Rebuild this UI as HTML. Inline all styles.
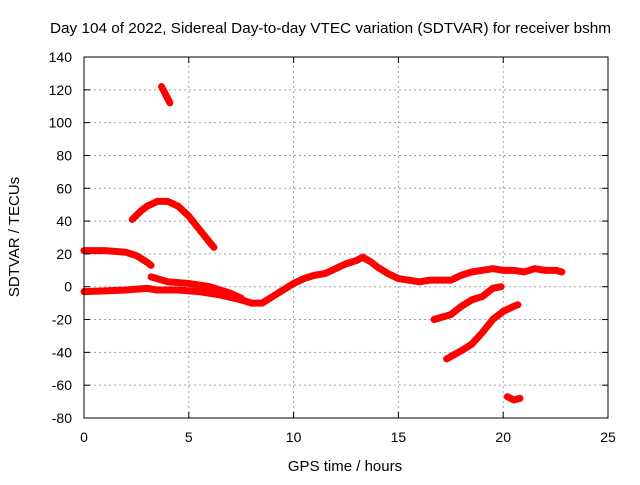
<!DOCTYPE html>
<html><head><meta charset="utf-8"><style>
body{margin:0;background:#fff}
svg text{font-family:"Liberation Sans",sans-serif;font-size:14px;fill:#000}
</style></head><body>
<svg id="chart" width="640" height="480" xmlns="http://www.w3.org/2000/svg">
<rect width="640" height="480" fill="#fff"/>
<g id="grid"></g>
<g id="series"></g>
<rect x="84" y="57" width="524" height="361" fill="none" stroke="#000" stroke-width="1"/>
<g id="ticks"></g>
<text x="50" y="33" textLength="561" lengthAdjust="spacingAndGlyphs" style="font-size:15px">Day 104 of 2022, Sidereal Day-to-day VTEC variation (SDTVAR) for receiver bshm</text>
<text x="345" y="471" text-anchor="middle" style="font-size:15px">GPS time / hours</text>
<text transform="translate(19,237) rotate(-90)" text-anchor="middle" style="font-size:15px">SDTVAR / TECUs</text>
</svg>
<script>
const xTicks=[0,5,10,15,20,25];
const yTicks=[-80,-60,-40,-20,0,20,40,60,80,100,120,140];
const seriesMain=[[0,-3],[1,-2.5],[2,-2],[3,-1],[3.5,-2],[4.5,-2],[5.5,-3],[6.5,-5],[7.5,-8],[8,-10],[8.5,-10],[9,-6],[9.5,-2],[10,2],[10.5,5],[11,7],[11.5,8],[12,11],[12.5,14],[13,16],[13.3,18],[13.7,15],[14,12],[14.5,8],[15,5],[15.5,4],[16,3],[16.5,4],[17,4],[17.5,4],[18,7],[18.5,9],[19,10],[19.5,11],[20,10],[20.5,10],[21,9],[21.5,11],[22,10],[22.5,10],[22.8,9]];
const seriesA=[[0,22],[1,22],[2,21],[2.5,19],[3,15],[3.2,13]];
const seriesB=[[3.2,6],[4,3],[5,2],[6,0],[7,-4],[7.5,-7]];
const seriesC=[[2.3,41],[2.7,46],[3,49],[3.5,52],[4,52],[4.5,49],[5,43],[5.5,35],[6,27],[6.2,24]];
const seriesD=[[3.7,122],[3.9,117],[4.1,112]];
const seriesE=[[16.7,-20],[17.5,-17],[18,-12],[18.5,-8],[19,-6],[19.5,-1],[19.9,0]];
const seriesF=[[17.3,-44],[18,-39],[18.5,-35],[19,-28],[19.5,-20],[20,-15],[20.5,-12],[20.7,-11]];
const seriesG=[[20.2,-67],[20.5,-69],[20.8,-68]];
const allSeries=[seriesMain,seriesA,seriesB,seriesC,seriesD,seriesE,seriesF,seriesG];
const X0=84,X1=608,Y0=418,Y1=57;
const xs=v=>X0+(v-0)/(25-0)*(X1-X0);
const ys=v=>Y0-(v+80)/(220)*(Y0-Y1);
const NS="http://www.w3.org/2000/svg";
const grid=document.getElementById('grid'),ticks=document.getElementById('ticks'),ser=document.getElementById('series');
function mk(tag,at,parent){const e=document.createElementNS(NS,tag);for(const k in at)e.setAttribute(k,at[k]);parent.appendChild(e);return e;}
xTicks.forEach(t=>{const x=xs(t);
 if(t>0&&t<25){const g=mk('line',{x1:x,x2:x,y1:Y0,y2:Y1,stroke:'#a0a0a0','stroke-dasharray':'2,3'},grid);
 
 }
 const a=mk('line',{x1:x,x2:x,y1:Y0,y2:Y0-6,stroke:'#000'},ticks);
 
 
 const b=mk('line',{x1:x,x2:x,y1:Y1,y2:Y1+6,stroke:'#000'},ticks);
 
 
 const l=mk('text',{x:x,y:442,'text-anchor':'middle'},ticks);l.textContent=t;
 
 
});
yTicks.forEach(t=>{const y=ys(t);
 if(t>-80&&t<140){const g=mk('line',{x1:X0,x2:X1,y1:y,y2:y,stroke:'#a0a0a0','stroke-dasharray':'2,3'},grid);
 
 }
 const a=mk('line',{x1:X0,x2:X0+6,y1:y,y2:y,stroke:'#000'},ticks);
 
 
 const b=mk('line',{x1:X1,x2:X1-6,y1:y,y2:y,stroke:'#000'},ticks);
 
 
 const l=mk('text',{x:72,y:y+5,'text-anchor':'end'},ticks);l.textContent=t;
 
 
});
allSeries.forEach((s,i)=>{
 const p=mk('polyline',{points:s.map(d=>xs(d[0])+','+ys(d[1])).join(' '),fill:'none',stroke:'#ff0000','stroke-width':7,'stroke-linejoin':'round','stroke-linecap':'round'},ser);
 
 
});
</script>
</body></html>
